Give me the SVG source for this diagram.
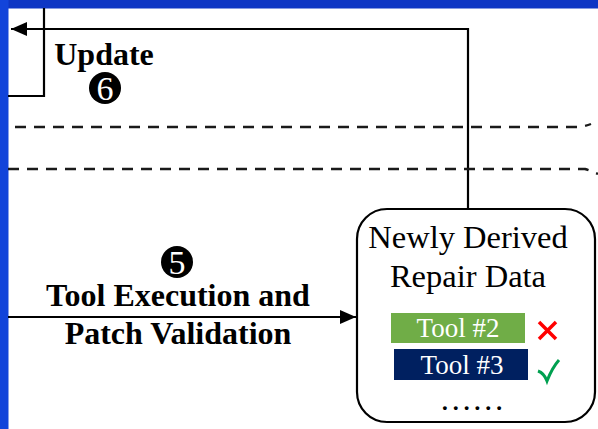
<svg xmlns="http://www.w3.org/2000/svg" width="598" height="429" viewBox="0 0 598 429">
<style>
.ln{fill:none;stroke:#000;stroke-width:2.2}
.dash{fill:none;stroke:#1a1a1a;stroke-width:2.4;stroke-dasharray:11 8}
.bold{font-family:"Liberation Serif","Times New Roman",serif;font-weight:bold;font-size:32px;fill:#000}
.reg{font-family:"Liberation Serif","Times New Roman",serif;font-size:32.5px;fill:#000}
.tool{font-family:"Liberation Serif","Times New Roman",serif;font-size:27px;fill:#fff}
.num{font-family:"Liberation Serif","Times New Roman",serif;font-size:34px;fill:#fff}
</style>
<defs>
<marker id="ah2" markerWidth="16" markerHeight="14" refX="16" refY="7" orient="auto" markerUnits="userSpaceOnUse">
<path d="M0,0 L16,7 L0,14 z" fill="#000"/>
</marker>
</defs>
<rect x="0" y="0" width="598" height="429" fill="#fff"/>
<rect x="0" y="0" width="598" height="8.5" fill="#0E36C4"/>
<rect x="0" y="0" width="8.5" height="429" fill="#1244DA"/>

<g id="connectors">
<path class="ln" d="M468,208 L468,29 L11,29" marker-end="url(#ah2)"/>
<path class="ln" d="M8,96 L44,96 L44,8"/>
<path class="ln" d="M8,317 L356,317" marker-end="url(#ah2)"/>
<path class="dash" d="M15,127 L580,127 Q586,126 591,124"/>
<path class="dash" d="M8,169 L585,169 Q591,171 598,174"/>
</g>

<g id="update-label">
<text class="bold" x="104" y="65" text-anchor="middle">Update</text>
<circle cx="105" cy="88" r="16" fill="#000"/>
<text class="num" x="105" y="99.5" text-anchor="middle">6</text>
</g>

<g id="tool-exec-label">
<circle cx="177" cy="262" r="16" fill="#000"/>
<text class="num" x="177" y="273.5" text-anchor="middle">5</text>
<text class="bold" x="178" y="306" text-anchor="middle">Tool Execution and</text>
<text class="bold" x="178" y="344" text-anchor="middle">Patch Validation</text>
</g>

<g id="repair-data">
<rect x="357" y="209" width="238" height="213" rx="30" ry="30" fill="#fff" stroke="#000" stroke-width="2.2"/>
<text class="reg" x="468" y="248" text-anchor="middle">Newly Derived</text>
<text class="reg" x="468" y="287" text-anchor="middle">Repair Data</text>
<rect x="391" y="313" width="134" height="30" fill="#70AD47"/>
<text class="tool" x="458" y="337" text-anchor="middle">Tool #2</text>
<rect x="394" y="349" width="134" height="31" fill="#002060"/>
<text class="tool" x="462" y="374" text-anchor="middle">Tool #3</text>
<path d="M539,322 L556,339 M556,322 L539,339" stroke="#FF0000" stroke-width="3.5" fill="none"/>
<path d="M538,371 Q544,373 547,381 Q552,368 559,360" stroke="#00A050" stroke-width="3" fill="none"/>
<text class="reg" x="472" y="410" text-anchor="middle" font-size="26">……</text>
</g>
</svg>
